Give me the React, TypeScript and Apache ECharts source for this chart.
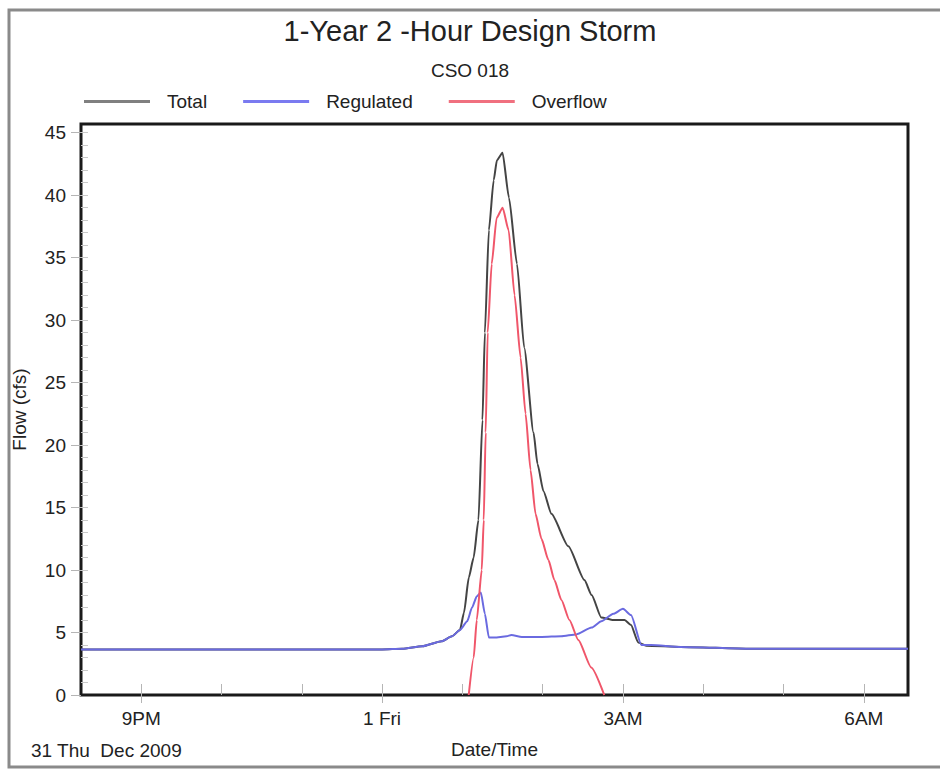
import React, { useEffect, useRef } from "react";
import * as echarts from "echarts";

// time in hours from 31 Dec 2009 00:00 (24 = 1 Jan 00:00)
const totalSeries: [number, number][] = [
  [20.25, 3.65], [24.0, 3.65], [24.25, 3.7], [24.5, 3.9], [24.74, 4.3], [24.87, 4.7],
  [24.97, 5.2], [25.02, 6.6], [25.08, 9.4], [25.14, 11.0], [25.2, 14.0], [25.25, 22.0],
  [25.28, 29.0], [25.33, 37.2], [25.39, 41.2], [25.43, 42.8], [25.5, 43.4], [25.58, 39.8],
  [25.68, 34.5], [25.77, 27.8], [25.886, 21.0], [25.935, 18.5], [26.01, 16.3], [26.109, 14.5],
  [26.32, 11.9], [26.52, 9.2], [26.61, 8.0], [26.73, 6.2], [26.88, 6.0], [27.02, 6.0],
  [27.1, 5.6], [27.19, 4.2], [27.29, 3.95], [27.72, 3.85], [28.59, 3.7], [30.55, 3.7],
];

const regulatedSeries: [number, number][] = [
  [20.25, 3.65], [24.0, 3.65], [24.25, 3.7], [24.5, 3.9], [24.74, 4.3], [24.87, 4.7],
  [24.97, 5.2], [25.06, 5.9], [25.12, 7.0], [25.18, 7.9], [25.23, 8.2], [25.28, 6.5],
  [25.33, 4.6], [25.4, 4.6], [25.55, 4.7], [25.61, 4.8], [25.74, 4.65], [25.99, 4.65],
  [26.23, 4.7], [26.42, 4.85], [26.61, 5.4], [26.73, 5.9], [26.88, 6.5], [27.0, 6.9],
  [27.1, 6.4], [27.23, 4.0], [27.35, 4.0], [27.72, 3.85], [28.59, 3.7], [30.55, 3.7],
];

const overflowSeries: [number, number][] = [
  [25.079, 0], [25.141, 3.0], [25.179, 6.0], [25.241, 10], [25.266, 14], [25.29, 21],
  [25.315, 29], [25.365, 34.5], [25.427, 38.2], [25.501, 39.0], [25.576, 37.2], [25.65, 32],
  [25.725, 27], [25.787, 22.5], [25.849, 18], [25.911, 14.5], [25.985, 12.5], [26.072, 10.8],
  [26.146, 9.2], [26.233, 7.6], [26.333, 6.0], [26.444, 4.4], [26.605, 2.2], [26.767, 0],
];

const seriesNames = ["Total", "Regulated", "Overflow"];
const hourTicks = [21, 22, 23, 24, 25, 26, 27, 28, 29, 30];
const labelTicks = [21, 24, 27, 30];
const labelTexts: Record<number, string> = { 21: "9PM", 24: "1 Fri", 27: "3AM", 30: "6AM" };
const yMajor = [0, 5, 10, 15, 20, 25, 30, 35, 40, 45];
const yMinor = Array.from({ length: 45 }, (_, i) => i + 1);

const X_MIN = 20.25;
const X_MAX = 30.55;
const Y_MAX = 45.7;

export default function App() {
  const ref = useRef<HTMLDivElement>(null);
  useEffect(() => {
    if (!ref.current) return;
    const chart = echarts.init(ref.current, null, { renderer: "svg" });
    const font = "'Liberation Sans', Arial, sans-serif";
    const tickColor = "#b5b5b5";
    chart.setOption({
      animation: false,
      backgroundColor: "#ffffff",
      textStyle: { fontFamily: font },
      title: [
        {
          text: "1-Year 2 -Hour Design Storm",
          left: "center",
          top: 11,
          textStyle: { fontSize: 29, fontWeight: "normal", color: "#222", fontFamily: font },
        },
        {
          text: "CSO 018",
          left: "center",
          top: 56,
          textStyle: { fontSize: 19, fontWeight: "normal", color: "#222", fontFamily: font },
        },
      ],
      legend: {
        data: seriesNames,
        left: 79,
        top: 87,
        icon: "rect",
        itemWidth: 66,
        itemHeight: 3,
        itemGap: 36,
        textStyle: { fontSize: 19, color: "#222", fontFamily: font, padding: [0, 0, 0, 12] },
      },
      grid: {
        left: 81,
        top: 124,
        right: 32,
        bottom: 74,
        show: true,
        borderColor: "#1a1a1a",
        borderWidth: 3,
        backgroundColor: "#ffffff",
      },
      xAxis: [
        {
          type: "value",
          min: X_MIN,
          max: X_MAX,
          position: "bottom",
          axisLine: { show: false },
          splitLine: { show: false },
          axisTick: {
            show: true,
            inside: true,
            length: 11,
            customValues: hourTicks,
            lineStyle: { color: tickColor, width: 1 },
          },
          axisLabel: { show: false },
        },
        {
          type: "value",
          min: X_MIN,
          max: X_MAX,
          position: "bottom",
          axisLine: { show: false },
          splitLine: { show: false },
          axisTick: {
            show: true,
            inside: false,
            length: 8,
            customValues: labelTicks,
            lineStyle: { color: tickColor, width: 1 },
          },
          axisLabel: {
            show: true,
            customValues: labelTicks,
            margin: 14,
            fontSize: 19,
            color: "#222",
            fontFamily: font,
            formatter: (v: number) => labelTexts[Math.round(v)] || "",
          },
          name: "Date/Time",
          nameLocation: "middle",
          nameGap: 45,
          nameTextStyle: { fontSize: 19, color: "#222", fontFamily: font },
        },
      ],
      yAxis: [
        {
          type: "value",
          min: 0,
          max: Y_MAX,
          position: "left",
          axisLine: { show: false },
          splitLine: { show: false },
          axisTick: {
            show: true,
            inside: false,
            length: 10,
            customValues: yMajor,
            lineStyle: { color: tickColor, width: 1 },
          },
          axisLabel: {
            show: true,
            customValues: yMajor,
            margin: 15,
            fontSize: 19,
            color: "#222",
            fontFamily: font,
          },
          name: "Flow (cfs)",
          nameLocation: "middle",
          nameRotate: 90,
          nameGap: 52,
          nameTextStyle: { fontSize: 19, color: "#222", fontFamily: font },
        },
        {
          type: "value",
          min: 0,
          max: Y_MAX,
          position: "left",
          axisLine: { show: false },
          splitLine: { show: false },
          axisTick: {
            show: true,
            inside: true,
            length: 7,
            customValues: yMinor,
            lineStyle: { color: "#c8c8c8", width: 1 },
          },
          axisLabel: { show: false },
        },
      ],
      graphic: [
        {
          type: "rect",
          shape: { x: 9, y: 10, width: 1000, height: 757 },
          style: { fill: "none", stroke: "#8a8a8a", lineWidth: 3 },
          silent: true,
        },
        {
          type: "text",
          left: 31,
          top: 741,
          style: { text: "31 Thu  Dec 2009", fontSize: 19, fill: "#222", fontFamily: font },
        },
      ],
      series: [
        {
          name: "Total",
          type: "line",
          xAxisIndex: 0,
          yAxisIndex: 0,
          data: totalSeries,
          showSymbol: false,
          smooth: 0.2,
          smoothMonotone: "x",
          lineStyle: { color: "#444444", width: 2 },
          itemStyle: { color: "#808080" },
        },
        {
          name: "Regulated",
          type: "line",
          xAxisIndex: 0,
          yAxisIndex: 0,
          data: regulatedSeries,
          showSymbol: false,
          smooth: 0.2,
          smoothMonotone: "x",
          lineStyle: { color: "#6a6ae0", width: 2 },
          itemStyle: { color: "#7a7af0" },
        },
        {
          name: "Overflow",
          type: "line",
          xAxisIndex: 0,
          yAxisIndex: 0,
          data: overflowSeries,
          showSymbol: false,
          smooth: 0.2,
          smoothMonotone: "x",
          lineStyle: { color: "#f0566a", width: 2 },
          itemStyle: { color: "#f0707f" },
        },
      ],
    });
    return () => chart.dispose();
  }, []);
  return (
    <div
      ref={ref}
      style={{ position: "absolute", left: 0, top: 0, width: 940, height: 769 }}
    />
  );
}
